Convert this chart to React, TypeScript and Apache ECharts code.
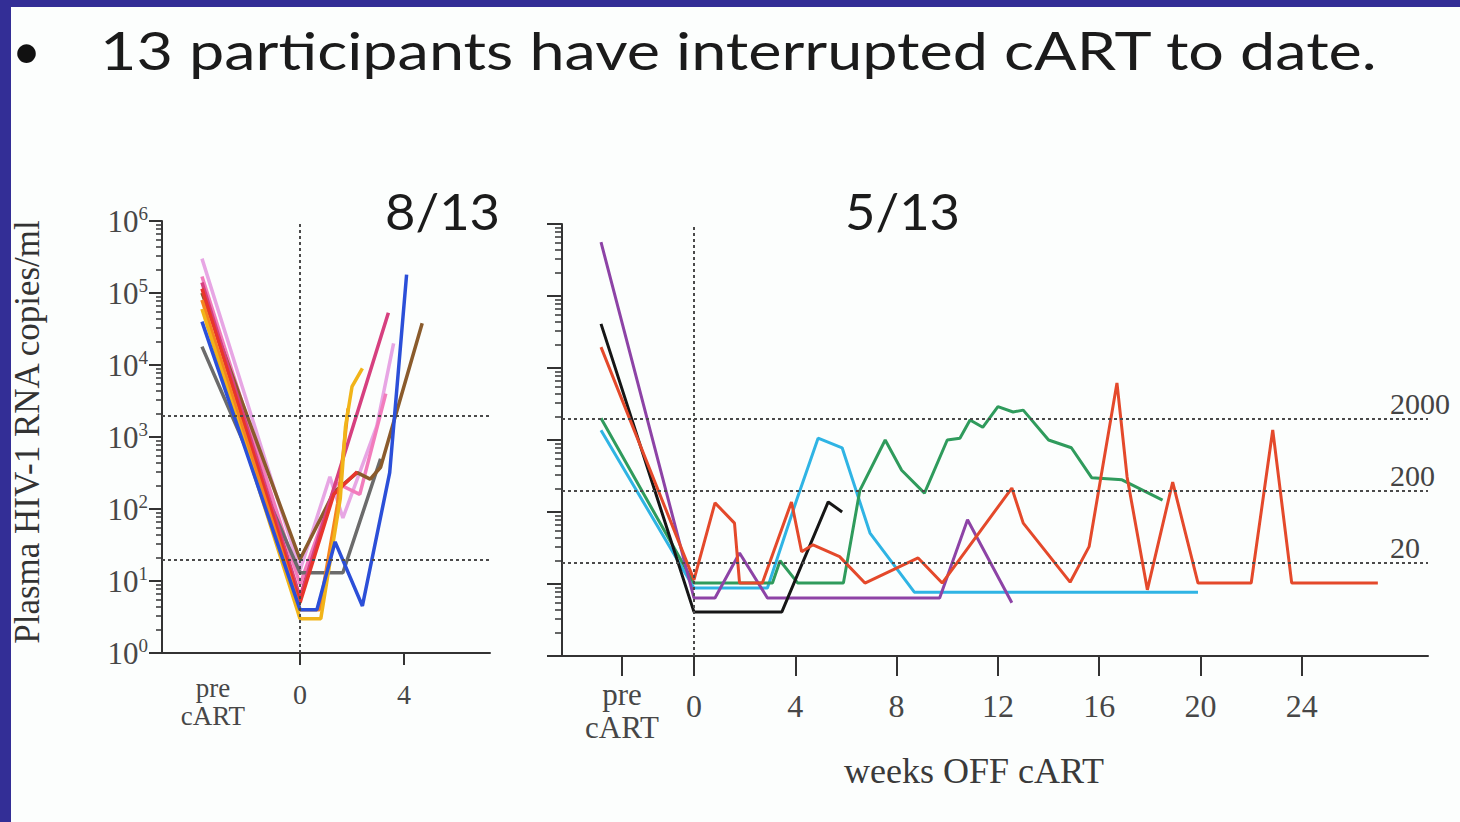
import React, { useEffect, useRef } from 'react';
import * as echarts from 'echarts';

const TITLE = '13 participants have interrupted cART to date.';
const LEFT_PANEL_TITLE = '8/13';
const RIGHT_PANEL_TITLE = '5/13';
const Y_AXIS_TITLE = 'Plasma HIV-1 RNA copies/ml';
const X_AXIS_TITLE = 'weeks OFF cART';
const PRE_LABEL = 'pre\ncART';

// x positions (weeks) of ticks / labels
const leftTickWeeks = [0, 4];
const leftLabelWeeks = [-3.35, 0, 4];
const rightTickWeeks = [-2.84, 0, 4, 8, 12, 16, 20, 24];
const thresholdsLeft = [2000, 20];
const thresholdsRight = [2000, 200, 20];

// Left panel: 8/13 participants  [week, copies/ml]
const leftLavender = [[-3.77, 300000], [0, 14], [1.15, 280], [1.65, 75], [2.95, 1400], [3.6, 20000]];
const leftPink = [[-3.77, 170000], [0, 9], [1.4, 230], [2.3, 160], [3.3, 4000]];
const leftMagenta = [[-3.77, 140000], [0, 6], [3.4, 53000]];
const leftRed = [[-3.77, 115000], [0, 5], [1.3, 160], [2.2, 330]];
const leftOrange = [[-3.77, 80000], [0, 4], [0.75, 4], [1.45, 120], [1.85, 2500]];
const leftGold = [[-3.77, 60000], [0, 3], [0.8, 3], [1.55, 140], [1.75, 1400], [2.0, 5000], [2.4, 9000]];
const leftBlue = [[-3.77, 40000], [0, 4], [0.65, 4], [1.35, 35], [2.4, 4.5], [3.45, 320], [4.1, 180000]];
const leftGray = [[-3.77, 18000], [0, 13], [1.65, 13], [3.1, 500]];
const leftBrown = [[-3.77, 100000], [0, 20], [1.3, 170], [2.2, 320], [2.7, 260], [3.1, 380], [4.7, 38000]];

// Right panel: 5/13 participants  [week, copies/ml]
const rightPurple = [[-3.67, 560000], [0, 6.4], [0.83, 6.4], [1.8, 27], [2.9, 6.4], [9.7, 6.4], [10.8, 78], [12.55, 5.5]];
const rightBlack = [[-3.67, 41000], [0, 4.1], [3.47, 4.1], [5.3, 138], [5.85, 100]];
const rightOrange = [
  [-3.67, 19500], [0, 11.4], [0.83, 134], [1.6, 70], [1.8, 10.3], [2.7, 10.3], [3.85, 138], [4.25, 28],
  [4.7, 35], [5.75, 24], [6.75, 10.3], [8.85, 23], [9.8, 10.3], [12.55, 215], [13.0, 70], [14.85, 10.6],
  [15.6, 33], [16.7, 6200], [17.1, 307], [17.9, 8.3], [18.9, 260], [19.9, 10.3], [22.0, 10.3], [22.85, 1380],
  [23.6, 10.3], [27.0, 10.3],
];
const rightGreen = [
  [-3.67, 2000], [0, 10.3], [3.1, 10.3], [3.4, 21], [4.1, 10.3], [5.9, 10.3], [6.55, 200], [7.55, 1000],
  [8.2, 380], [9.1, 183], [10.0, 1000], [10.5, 1060], [10.9, 1900], [11.4, 1500], [12.0, 2900], [12.6, 2450],
  [13.0, 2600], [14.0, 1000], [14.9, 780], [15.7, 300], [16.9, 280], [18.5, 146],
];
const rightCyan = [[-3.67, 1370], [0, 8.8], [2.9, 8.8], [4.05, 146], [4.9, 1060], [5.85, 780], [6.95, 51], [8.7, 7.7], [19.9, 7.7]];

const SERIF = "'Liberation Serif', 'Times New Roman', serif";
const SANS = "Lato, 'Open Sans', sans-serif";
const AXIS_COLOR = '#333';
const LABEL_COLOR = '#474747';

const leftSeries = [
  { data: leftLavender, color: '#e7a6e4' },
  { data: leftPink, color: '#f27cbc' },
  { data: leftGray, color: '#6b6b6b' },
  { data: leftBrown, color: '#8a5b2c' },
  { data: leftMagenta, color: '#d6407f' },
  { data: leftRed, color: '#e8352c' },
  { data: leftOrange, color: '#f5841f' },
  { data: leftGold, color: '#f1b419' },
  { data: leftBlue, color: '#2b4fd8' },
];
const rightSeries = [
  { data: rightCyan, color: '#2fb4e4' },
  { data: rightGreen, color: '#2f9b5c' },
  { data: rightPurple, color: '#8d43a6' },
  { data: rightBlack, color: '#161616' },
  { data: rightOrange, color: '#e4492b' },
];

const dotted = { type: [3, 3] as any, color: '#4a4a4a', width: 2 };

function fmtX(v: number) {
  return v < 0 ? PRE_LABEL : `{n|${v}}`;
}

export default function App() {
  const ref = useRef<HTMLDivElement>(null);
  useEffect(() => {
    if (!ref.current) return;
    const chart = echarts.init(ref.current, undefined, { renderer: 'svg' });
    const tickStyle = { color: AXIS_COLOR, width: 2 };
    const option: any = {
      animation: false,
      backgroundColor: '#fcfefd',
      grid: [
        { left: 162, top: 221, width: 328, height: 432 },
        { left: 562, top: 224, width: 866, height: 432 },
      ],
      xAxis: [
        {
          gridIndex: 0, type: 'value', min: -5.308, max: 7.308,
          axisLine: { show: true, onZero: false, lineStyle: tickStyle },
          axisTick: { show: true, customValues: leftTickWeeks, length: 12, lineStyle: tickStyle },
          axisLabel: {
            customValues: leftLabelWeeks, formatter: fmtX, margin: 21,
            fontFamily: SERIF, fontSize: 27, color: LABEL_COLOR, lineHeight: 28,
            rich: { n: { fontFamily: SERIF, fontSize: 28, color: LABEL_COLOR, lineHeight: 40 } },
          },
          splitLine: { show: false },
        },
        {
          gridIndex: 1, type: 'value', min: -5.21, max: 28.98,
          axisLine: { show: true, onZero: false, lineStyle: tickStyle },
          axisTick: { show: true, customValues: rightTickWeeks, length: 20, lineStyle: tickStyle },
          axisLabel: {
            customValues: rightTickWeeks, formatter: fmtX, margin: 22,
            fontFamily: SERIF, fontSize: 31, color: LABEL_COLOR, lineHeight: 33,
            rich: { n: { fontFamily: SERIF, fontSize: 32, color: LABEL_COLOR, lineHeight: 56 } },
          },
          splitLine: { show: false },
          name: X_AXIS_TITLE, nameLocation: 'middle', nameGap: 97,
          nameTextStyle: { fontFamily: SERIF, fontSize: 36, color: '#3a3a3a', padding: [0, 42, 0, 0] },
        },
      ],
      yAxis: [
        {
          gridIndex: 0, type: 'log', logBase: 10, min: 1, max: 1000000, splitNumber: 6,
          axisLine: { show: true, onZero: false, lineStyle: tickStyle },
          axisTick: { show: true, length: 13, lineStyle: tickStyle },
          minorTick: { show: true, splitNumber: 8, length: 6, lineStyle: { color: AXIS_COLOR, width: 1.5 } },
          axisLabel: {
            margin: 14,
            formatter: (v: number) => `{a|10}{b|${Math.round(Math.log10(v))}}`,
            rich: {
              a: { fontFamily: SERIF, fontSize: 31, color: LABEL_COLOR, lineHeight: 34 },
              b: { fontFamily: SERIF, fontSize: 19, color: LABEL_COLOR, lineHeight: 20, verticalAlign: 'top' },
            },
          },
          splitLine: { show: false },
          name: Y_AXIS_TITLE, nameLocation: 'middle', nameGap: 117, nameRotate: 90,
          nameTextStyle: { fontFamily: SERIF, fontSize: 35, color: '#333', padding: [0, 0, 0, 10] },
        },
        {
          gridIndex: 1, type: 'log', logBase: 10, min: 1, max: 1000000, splitNumber: 6,
          axisLine: { show: true, onZero: false, lineStyle: tickStyle },
          axisTick: { show: true, length: 15, lineStyle: tickStyle },
          minorTick: { show: true, splitNumber: 8, length: 7, lineStyle: { color: AXIS_COLOR, width: 1.5 } },
          axisLabel: { show: false },
          splitLine: { show: false },
        },
      ],
      series: [
        {
          type: 'line', xAxisIndex: 0, yAxisIndex: 0, data: [], z: 1, silent: true,
          markLine: {
            silent: true, symbol: ['none', 'none'], animation: false, lineStyle: dotted,
            label: { show: false },
            data: [...thresholdsLeft.map((v) => ({ yAxis: v })), { xAxis: 0 }],
          },
        },
        {
          type: 'line', xAxisIndex: 1, yAxisIndex: 1, data: [], z: 1, silent: true,
          markLine: {
            silent: true, symbol: ['none', 'none'], animation: false, lineStyle: dotted,
            label: { show: false },
            data: [
              ...thresholdsRight.map((v) => ({
                yAxis: v,
                label: {
                  show: true, position: 'end', formatter: String(v), offset: [-43, -15],
                  fontFamily: SERIF, fontSize: 30, color: '#444',
                },
              })),
              { xAxis: 0 },
            ],
          },
        },
        ...leftSeries.map((s) => ({
          type: 'line', xAxisIndex: 0, yAxisIndex: 0, data: s.data, showSymbol: false, symbol: 'none',
          z: 2, lineStyle: { color: s.color, width: 3.5 }, itemStyle: { color: s.color },
        })),
        ...rightSeries.map((s) => ({
          type: 'line', xAxisIndex: 1, yAxisIndex: 1, data: s.data, showSymbol: false, symbol: 'none',
          z: 2, lineStyle: { color: s.color, width: 3 }, itemStyle: { color: s.color },
        })),
      ],
      graphic: [
        { type: 'text', x: 12, y: 50, style: { text: '•', fontFamily: SANS, fontSize: 50, fill: '#111', verticalAlign: 'middle' } },
        { type: 'text', x: 100, y: 50, scaleX: 1.21, style: { text: TITLE, fontFamily: SANS, fontSize: 52, fill: '#1b1b1b', verticalAlign: 'middle' } },
        { type: 'text', x: 385, y: 210, scaleX: 1.05, style: { text: LEFT_PANEL_TITLE, fontFamily: SANS, fontSize: 50, fill: '#1b1b1b', verticalAlign: 'middle' } },
        { type: 'text', x: 845, y: 210, scaleX: 1.05, style: { text: RIGHT_PANEL_TITLE, fontFamily: SANS, fontSize: 50, fill: '#1b1b1b', verticalAlign: 'middle' } },
        { type: 'line', shape: { x1: 547, y1: 656, x2: 562, y2: 656 }, style: { stroke: AXIS_COLOR, lineWidth: 2 } },
        { type: 'rect', z: 100, shape: { x: 0, y: 0, width: 1460, height: 7 }, style: { fill: '#332e96' } },
        { type: 'rect', z: 100, shape: { x: 0, y: 0, width: 11, height: 822 }, style: { fill: '#332e96' } },
      ],
    };
    chart.setOption(option);
    return () => chart.dispose();
  }, []);
  return (
    <div
      ref={ref}
      style={{ position: 'fixed', left: 0, top: 0, width: 1460, height: 822, background: '#fcfefd' }}
    />
  );
}
